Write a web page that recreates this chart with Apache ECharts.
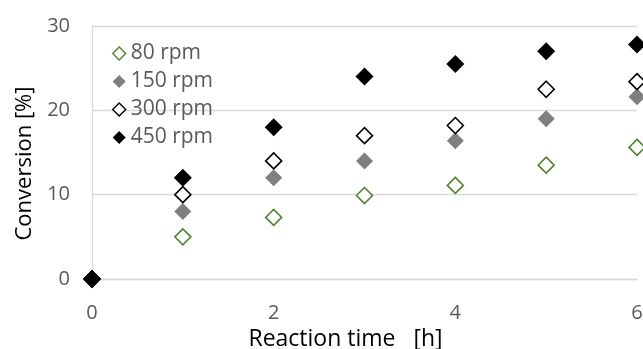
<!DOCTYPE html>
<html><head><meta charset="utf-8">
<script src="https://cdn.jsdelivr.net/npm/echarts@6/dist/echarts.min.js"></script>
<style>html,body{margin:0;padding:0;background:#fff}#c{width:643px;height:349px}</style>
</head><body><div id="c"></div>
<script>
const times = [0, 1, 2, 3, 4, 5, 6];
const seriesNames = ['80 rpm', '150 rpm', '300 rpm', '450 rpm'];
const rpm80  = [0, 5.0, 7.3, 9.9, 11.1, 13.5, 15.6];
const rpm150 = [0, 8.0, 12.0, 14.0, 16.4, 19.0, 21.6];
const rpm300 = [0, 10.0, 14.0, 17.0, 18.2, 22.5, 23.4];
const rpm450 = [0, 12.0, 18.0, 24.0, 25.5, 27.0, 27.8];
const xTicks = [0, 2, 4, 6];
const yTicks = [0, 10, 20, 30];

const values = [rpm80, rpm150, rpm300, rpm450];
const styles = [
  {color:'#fff', borderColor:'#548235', borderWidth:1.6, opacity:1},
  {color:'#7f7f7f', borderColor:'#7f7f7f', borderWidth:0, opacity:1},
  {color:'#fff', borderColor:'#000', borderWidth:1.6, opacity:1},
  {color:'#000', borderColor:'#000', borderWidth:0, opacity:1}
];
const sizes = [16, 17, 16, 18];
const font = '"Open Sans", "Liberation Sans", sans-serif';
const chart = echarts.init(document.getElementById('c'), null, {renderer:'canvas'});
chart.setOption({
  animation:false,
  grid:{left:92, right:6, top:26, bottom:70, containLabel:false, outerBoundsMode:'none'},
  legend:{
    orient:'vertical', left:107, top:37, itemGap:5,
    itemWidth:13, itemHeight:13,
    textStyle:{fontFamily:font, fontSize:21, color:'#595959', lineHeight:23},
    data:seriesNames.map((n,i)=>({name:n, icon:'diamond', itemStyle:Object.assign({}, styles[i], {borderWidth: styles[i].borderWidth? 1.4:0})}))
  },
  xAxis:{
    type:'value', min:0, max:6, interval:2,
    name:'Reaction time   [h]', nameLocation:'middle', nameGap:40,
    nameTextStyle:{fontFamily:font, fontSize:23, color:'#000', padding:[0,38,0,0]},
    axisLine:{show:true, lineStyle:{color:'#d9d9d9', width:1.3}},
    axisTick:{show:false},
    splitLine:{show:false},
    axisLabel:{fontFamily:font, fontSize:20, color:'#595959', margin:24,
      formatter:v=>xTicks.includes(v)?String(v):''}
  },
  yAxis:{
    type:'value', min:0, max:30, interval:10,
    name:'Conversion [%]', nameLocation:'middle', nameGap:55,
    nameTextStyle:{fontFamily:font, fontSize:22, color:'#000', padding:[0,22,0,0]},
    axisLine:{show:true, lineStyle:{color:'#d9d9d9', width:1.3}},
    axisTick:{show:false},
    splitLine:{show:true, lineStyle:{color:'#d9d9d9', width:1.3}},
    axisLabel:{fontFamily:font, fontSize:20, color:'#595959', margin:22,
      formatter:v=>yTicks.includes(v)?String(v):''}
  },
  series:values.map((vals,i)=>({
    name:seriesNames[i], type:'scatter', clip:false,
    symbol:'diamond', symbolSize:sizes[i],
    itemStyle:styles[i],
    data:times.map((t,j)=>[t, vals[j]])
  }))
});
</script></body></html>
